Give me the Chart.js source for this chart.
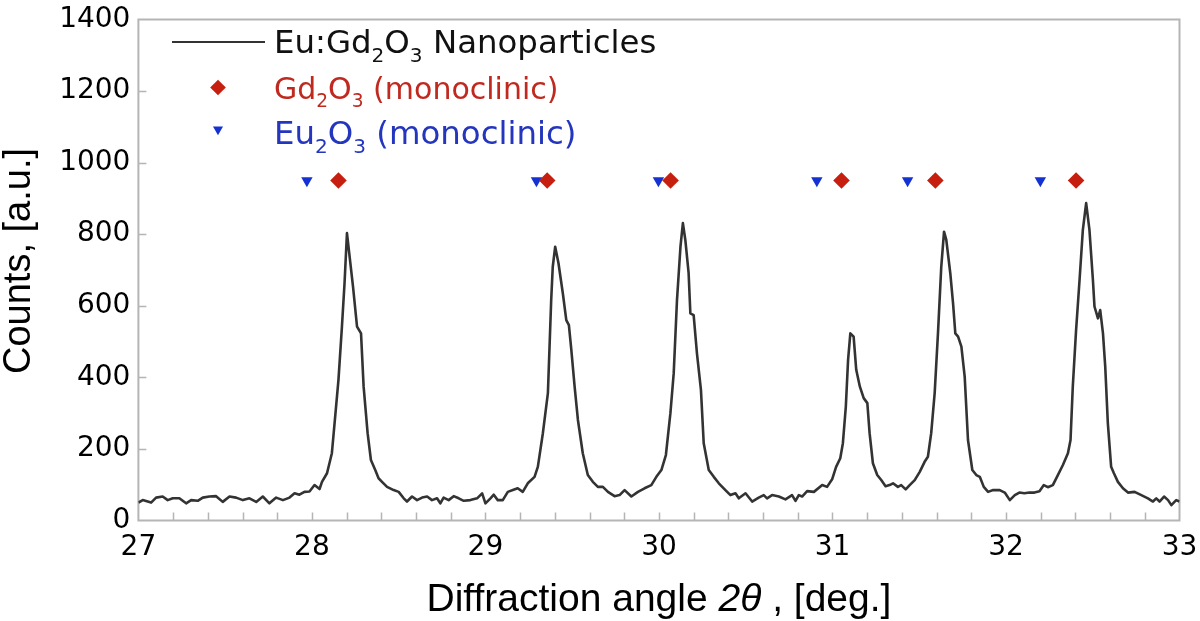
<!DOCTYPE html>
<html>
<head>
<meta charset="utf-8">
<title>Eu:Gd2O3 XRD</title>
<script src="https://cdn.jsdelivr.net/npm/chart.js@4.4.1/dist/chart.umd.min.js"></script>
<style>
  html, body { margin: 0; padding: 0; background: #fff; }
  #wrap { width: 1200px; height: 621px; position: relative; }
</style>
</head>
<body>
<div id="wrap"><canvas id="grafico"></canvas></div>
<script>
const twoTheta = [
  27.000, 27.025, 27.073, 27.102, 27.140, 27.169, 27.198, 27.236, 27.275, 27.304,
  27.342, 27.371, 27.409, 27.448, 27.486, 27.525, 27.563, 27.602, 27.640, 27.679,
  27.717, 27.755, 27.794, 27.833, 27.871, 27.900, 27.928, 27.957, 27.986, 28.015,
  28.044, 28.058, 28.087, 28.115, 28.134, 28.153, 28.173, 28.188, 28.202, 28.215,
  28.237, 28.260, 28.283, 28.298, 28.321, 28.340, 28.365, 28.384, 28.404, 28.433,
  28.471, 28.500, 28.529, 28.548, 28.577, 28.606, 28.635, 28.664, 28.692, 28.721,
  28.740, 28.759, 28.788, 28.817, 28.846, 28.875, 28.913, 28.952, 28.981, 29.000,
  29.029, 29.048, 29.071, 29.100, 29.129, 29.158, 29.186, 29.215, 29.244, 29.283,
  29.302, 29.331, 29.360, 29.379, 29.388, 29.402, 29.421, 29.446, 29.466, 29.481,
  29.495, 29.514, 29.533, 29.561, 29.590, 29.619, 29.648, 29.677, 29.706, 29.744,
  29.773, 29.802, 29.841, 29.879, 29.917, 29.956, 29.985, 30.014, 30.040, 30.066,
  30.085, 30.104, 30.124, 30.138, 30.152, 30.171, 30.181, 30.200, 30.219, 30.242,
  30.258, 30.287, 30.316, 30.345, 30.383, 30.412, 30.441, 30.460, 30.499, 30.537,
  30.575, 30.604, 30.623, 30.652, 30.691, 30.729, 30.767, 30.787, 30.806, 30.825,
  30.854, 30.893, 30.941, 30.969, 30.998, 31.021, 31.045, 31.060, 31.077, 31.090,
  31.103, 31.122, 31.137, 31.158, 31.180, 31.201, 31.214, 31.233, 31.258, 31.281,
  31.306, 31.329, 31.349, 31.377, 31.396, 31.422, 31.445, 31.474, 31.503, 31.531,
  31.550, 31.569, 31.589, 31.608, 31.627, 31.643, 31.656, 31.679, 31.695, 31.708,
  31.724, 31.743, 31.762, 31.781, 31.806, 31.829, 31.849, 31.872, 31.897, 31.926,
  31.964, 31.993, 32.022, 32.051, 32.077, 32.106, 32.135, 32.164, 32.193, 32.218,
  32.241, 32.270, 32.299, 32.328, 32.357, 32.372, 32.385, 32.404, 32.424, 32.443,
  32.462, 32.481, 32.501, 32.510, 32.530, 32.543, 32.559, 32.572, 32.587, 32.606,
  32.622, 32.645, 32.674, 32.703, 32.741, 32.780, 32.818, 32.847, 32.866, 32.885,
  32.911, 32.934, 32.953, 32.981, 33.000
];
const counts = [
   50,  57,  50,  64,  67,  57,  62,  62,  48,  57,
   55,  64,  67,  68,  52,  67,  64,  57,  62,  52,
   67,  48,  64,  57,  64,  76,  72,  80,  81,  99,
   88, 108, 132, 188, 290, 393, 542, 663, 803, 747,
  653, 542, 523, 374, 244, 169, 141, 118, 108,  94,
   85,  80,  62,  53,  67,  57,  64,  67,  57,  62,
   48,  64,  57,  68,  62,  55,  57,  62,  76,  48,
   62,  72,  57,  57,  80,  85,  90,  80, 104, 122,
  150, 244, 356, 616, 709, 765, 719, 635, 560, 546,
  477, 374, 281, 188, 127, 108,  94,  94,  80,  68,
   71,  85,  67,  80,  90,  99, 122, 141, 183, 300,
  411, 616, 765, 831, 784, 691, 579, 574, 467, 365,
  216, 141, 122, 104,  85,  71,  76,  62,  76,  53,
   64,  71,  62,  71,  67,  59,  71,  55,  71,  67,
   82,  80,  99,  94, 115, 150, 174, 216, 318, 449,
  523, 514, 421, 374, 342, 328, 244, 160, 127, 113,
   96,  99, 104,  94,  99,  87,  99, 113, 136, 164,
  178, 244, 356, 523, 709, 807, 784, 691, 607, 523,
  514, 486, 402, 225, 141, 127, 122,  94,  80,  85,
   85,  78,  57,  71,  78,  76,  78,  78,  82,  99,
   93,  99, 127, 155, 188, 225, 374, 532, 672, 812,
  887, 812, 672, 598, 565, 588, 523, 430, 272, 150,
  132, 108,  90,  78,  80,  71,  62,  53,  62,  53,
   67,  57,  43,  57,  53
];

// Posiciones de referencia (fases monoclínicas)
const gdPeaks = [28.153, 29.356, 30.067, 31.052, 31.593, 32.404];
const euPeaks = [27.971, 29.294, 29.997, 30.910, 31.433, 32.198];
const markerLevel = 950;

const seriesLabels = ['Eu:Gd₂O₃ Nanoparticles', 'Gd₂O₃ (monoclinic)', 'Eu₂O₃ (monoclinic)'];
const xLimits = [27, 33];
const yLimits = [0, 1400];

const TITLE_FONT = '"Liberation Sans", Arial, sans-serif';
const TICK_FONT = '"DejaVu Sans", sans-serif';
const SUBS = '₀₁₂₃₄₅₆₇₈₉';

// Texto con subíndices (₂, ₃) dibujado en trozos
function drawRichText(ctx, text, x, y, size, family, color) {
    const runs = [];
    for (const ch of text) {
        const i = SUBS.indexOf(ch);
        const sub = i >= 0;
        const c = sub ? String(i) : ch;
        const last = runs[runs.length - 1];
        if (last && last.sub === sub) last.t += c;
        else runs.push({ t: c, sub });
    }
    ctx.fillStyle = color;
    ctx.textBaseline = 'alphabetic';
    ctx.textAlign = 'left';
    for (const r of runs) {
        const s = r.sub ? size * 0.62 : size;
        ctx.font = `${s}px ${family}`;
        ctx.fillText(r.t, x, r.sub ? y + size * 0.27 : y);
        x += ctx.measureText(r.t).width;
    }
}

// Quita el relleno automático que Chart.js deja para las etiquetas
function sinRelleno(scale) {
    scale.paddingTop = 0;
    scale.paddingBottom = 0;
    scale.paddingLeft = 0;
    scale.paddingRight = 0;
}

// Marco gris y marcas de graduación hacia adentro
const marcoPlugin = {
    id: 'marco',
    beforeDatasetsDraw(chart) {
        const { ctx, chartArea: a, scales } = chart;
        ctx.save();
        ctx.strokeStyle = '#b5b5b5';
        ctx.lineWidth = 1.5;
        ctx.beginPath();
        scales.x.ticks.forEach(t => {
            if (t.value <= xLimits[0] + 1e-6 || t.value >= xLimits[1] - 1e-6) return;
            const px = Math.round(scales.x.getPixelForValue(t.value)) + 0.5;
            ctx.moveTo(px, a.bottom);
            ctx.lineTo(px, a.bottom - 8);
        });
        scales.y.ticks.forEach(t => {
            if (t.value <= yLimits[0] || t.value >= yLimits[1]) return;
            const py = Math.round(scales.y.getPixelForValue(t.value)) + 0.5;
            ctx.moveTo(a.left, py);
            ctx.lineTo(a.left + 8, py);
        });
        ctx.stroke();
        ctx.lineWidth = 2;
        ctx.strokeRect(a.left, a.top, a.right - a.left, a.bottom - a.top);
        ctx.restore();
    }
};

// Títulos de ejes (2θ en cursiva) y leyenda dentro del área
const textosPlugin = {
    id: 'textos',
    afterDraw(chart) {
        const { ctx, chartArea: a } = chart;
        ctx.save();

        // eje x
        const parts = [
            { t: 'Diffraction angle ', it: false },
            { t: '2θ', it: true },
            { t: ' , [deg.]', it: false }
        ];
        const size = 39;
        let total = 0;
        parts.forEach(p => {
            ctx.font = `${p.it ? 'italic ' : ''}${size}px ${TITLE_FONT}`;
            p.w = ctx.measureText(p.t).width;
            total += p.w;
        });
        let x = (a.left + a.right) / 2 - total / 2;
        ctx.fillStyle = '#000';
        ctx.textBaseline = 'alphabetic';
        ctx.textAlign = 'left';
        parts.forEach(p => {
            ctx.font = `${p.it ? 'italic ' : ''}${size}px ${TITLE_FONT}`;
            ctx.fillText(p.t, x, 611);
            x += p.w;
        });

        // eje y
        ctx.translate(20, 261);
        ctx.rotate(-Math.PI / 2);
        ctx.font = `38px ${TITLE_FONT}`;
        ctx.textAlign = 'center';
        ctx.textBaseline = 'middle';
        ctx.fillText('Counts, [a.u.]', 0, 0);
        ctx.setTransform(1, 0, 0, 1, 0, 0);

        // leyenda
        const ds = chart.data.datasets;
        ctx.strokeStyle = ds[0].borderColor;
        ctx.lineWidth = 2;
        ctx.beginPath();
        ctx.moveTo(172, 42);
        ctx.lineTo(265, 42);
        ctx.stroke();
        drawRichText(ctx, ds[0].label, 274, 53, 32.4, TICK_FONT, '#111');

        ctx.fillStyle = ds[1].backgroundColor;
        Chart.helpers.drawPoint(ctx, { pointStyle: 'rectRot', radius: 7.8, rotation: 0, borderWidth: 0 }, 218, 87.5);
        drawRichText(ctx, ds[1].label, 274, 99, 30, TICK_FONT, '#c0291f');

        ctx.fillStyle = ds[2].backgroundColor;
        Chart.helpers.drawPoint(ctx, { pointStyle: 'triangle', radius: 5.8, rotation: 180, borderWidth: 0 }, 218, 129.5);
        drawRichText(ctx, ds[2].label, 274, 144, 32.4, TICK_FONT, '#2436bd');

        ctx.restore();
    }
};

const ctx1 = document.getElementById('grafico').getContext('2d');

window.graficoXRD = new Chart(ctx1, {
    type: 'scatter',
    data: {
        datasets: [
            {
                label: seriesLabels[0],
                data: twoTheta.map((x, i) => ({ x, y: counts[i] })),
                showLine: true,
                borderColor: '#333333',
                backgroundColor: '#333333',
                borderWidth: 2.6,
                borderJoinStyle: 'round',
                pointRadius: 0,
                tension: 0,
                order: 3
            },
            {
                label: seriesLabels[1],
                data: gdPeaks.map(x => ({ x, y: markerLevel })),
                pointStyle: 'rectRot',
                pointRadius: 8.3,
                backgroundColor: '#c71f0f',
                borderWidth: 0,
                showLine: false,
                order: 1
            },
            {
                label: seriesLabels[2],
                data: euPeaks.map(x => ({ x, y: markerLevel })),
                pointStyle: 'triangle',
                rotation: 180,
                pointRadius: 6.6,
                backgroundColor: '#1432d4',
                borderWidth: 0,
                showLine: false,
                order: 2
            }
        ]
    },
    options: {
        responsive: true,
        maintainAspectRatio: false,
        animation: false,
        events: [],
        layout: { padding: { top: 19.5, right: 20.5, left: 0, bottom: 0 } },
        plugins: {
            legend: { display: false },
            tooltip: { enabled: false }
        },
        scales: {
            x: {
                type: 'linear',
                min: xLimits[0],
                max: xLimits[1],
                grid: { display: false, drawTicks: false },
                border: { display: false },
                ticks: {
                    stepSize: 0.2,
                    autoSkip: false,
                    maxRotation: 0,
                    padding: 10,
                    color: '#000',
                    font: { family: TICK_FONT, size: 28 },
                    callback: v => Math.abs(v - Math.round(v)) < 1e-6 ? String(Math.round(v)) : ''
                },
                afterFit(scale) {
                    scale.height = 100.5;
                    sinRelleno(scale);
                }
            },
            y: {
                min: yLimits[0],
                max: yLimits[1],
                grid: { display: false, drawTicks: false },
                border: { display: false },
                ticks: {
                    stepSize: 200,
                    padding: 8,
                    color: '#000',
                    font: { family: TICK_FONT, size: 28 },
                    callback: v => String(v)
                },
                afterFit(scale) {
                    scale.width = 138.4;
                    sinRelleno(scale);
                }
            }
        }
    },
    plugins: [marcoPlugin, textosPlugin]
});
</script>
</body>
</html>
